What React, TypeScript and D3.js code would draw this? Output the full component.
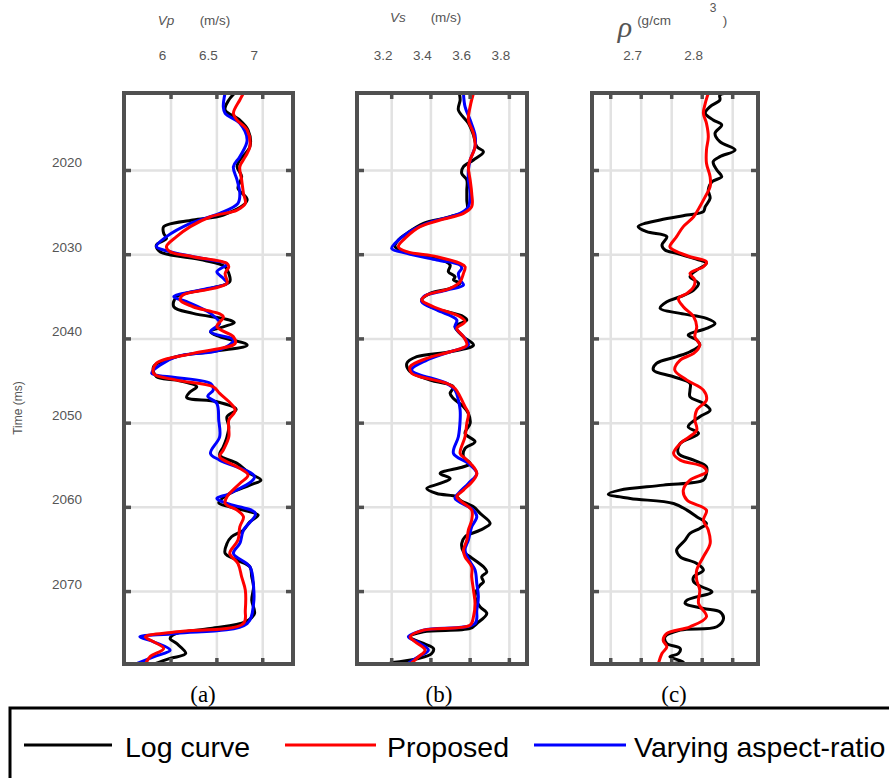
import React from 'react';
import * as d3 from 'd3';

type Pt = [number, number];

const timeTicks = [2020, 2030, 2040, 2050, 2060, 2070];
const vpTicks = [6, 6.5, 7];
const vpTickLabels = ['6', '6.5', '7'];
const vsTicks = [3.2, 3.4, 3.6, 3.8];
const vsTickLabels = ['3.2', '3.4', '3.6', '3.8'];
const rhoTicks = [2.65, 2.7, 2.75, 2.8, 2.85];
const rhoTickLabels = ['', '2.7', '', '2.8', ''];
const panelLabels = ['(a)', '(b)', '(c)'];
const legendLabels = ['Log curve', 'Proposed', 'Varying aspect-ratio'];

// [time (ms), value]
const vpLog: Pt[] = [[2010.76,6.70],[2011.63,6.63],[2012.82,6.59],[2014.01,6.75],[2015.19,6.84],[2017.17,6.86],[2018.76,6.75],[2019.55,6.72],[2020.74,6.77],[2022.12,6.73],[2023.51,6.83],[2025.29,6.57],[2025.88,6.24],[2026.67,5.92],[2027.47,5.92],[2028.06,5.95],[2028.85,5.84],[2029.64,5.88],[2030.63,6.35],[2031.43,6.59],[2032.22,6.63],[2033.21,6.64],[2034.00,6.43],[2034.99,6.06],[2036.18,6.03],[2036.97,6.24],[2037.76,6.64],[2038.08,6.69],[2039.15,6.43],[2039.74,6.53],[2040.73,6.83],[2041.52,6.43],[2042.11,6.06],[2043.30,5.81],[2044.49,5.84],[2044.89,6.06],[2045.68,6.28],[2046.27,6.21],[2046.95,6.17],[2047.46,6.50],[2048.37,6.71],[2049.24,6.61],[2050.43,6.63],[2051.62,6.61],[2052.81,6.57],[2053.79,6.53],[2054.78,6.72],[2055.97,6.86],[2056.76,6.98],[2057.36,6.86],[2058.35,6.64],[2059.46,6.52],[2059.93,6.64],[2060.53,6.86],[2060.92,6.95],[2061.71,6.86],[2062.70,6.79],[2063.49,6.66],[2064.29,6.61],[2065.47,6.59],[2066.27,6.72],[2067.06,6.86],[2068.25,6.88],[2069.43,6.90],[2071.02,6.88],[2072.60,6.91],[2073.59,6.81],[2074.38,6.43],[2074.97,6.06],[2075.57,5.99],[2076.16,6.06],[2077.35,6.16],[2077.94,5.99],[2078.62,5.81]];
const vpProposed: Pt[] = [[2010.84,6.79],[2011.63,6.75],[2013.21,6.68],[2014.01,6.72],[2015.19,6.83],[2017.17,6.86],[2018.36,6.81],[2019.55,6.75],[2021.13,6.77],[2022.72,6.79],[2023.90,6.81],[2024.70,6.72],[2025.49,6.43],[2026.67,6.21],[2027.86,6.06],[2029.05,5.95],[2029.64,5.99],[2030.24,6.24],[2031.03,6.61],[2031.43,6.63],[2032.22,6.59],[2033.40,6.61],[2034.00,6.46],[2034.79,6.13],[2035.38,6.10],[2036.18,6.24],[2037.36,6.57],[2038.55,6.50],[2039.74,6.68],[2040.53,6.70],[2041.72,6.24],[2042.91,5.84],[2044.10,5.81],[2044.89,6.06],[2045.68,6.46],[2046.47,6.53],[2048.45,6.70],[2049.64,6.63],[2051.62,6.63],[2053.20,6.57],[2053.99,6.53],[2055.18,6.72],[2056.17,6.84],[2057.16,6.75],[2058.74,6.61],[2059.54,6.59],[2060.33,6.72],[2061.12,6.79],[2062.31,6.75],[2063.89,6.73],[2065.47,6.64],[2066.66,6.73],[2068.25,6.77],[2069.83,6.81],[2072.20,6.81],[2073.79,6.79],[2074.78,6.06],[2075.37,5.72],[2075.96,5.81],[2076.76,5.92],[2077.75,5.77],[2078.62,5.72]];
const vpVarying: Pt[] = [[2010.76,6.59],[2012.42,6.57],[2013.21,6.59],[2014.40,6.75],[2016.38,6.83],[2018.36,6.75],[2019.55,6.68],[2021.13,6.72],[2022.72,6.75],[2023.90,6.73],[2025.09,6.53],[2026.28,6.21],[2027.86,5.95],[2029.05,5.84],[2029.64,5.99],[2030.63,6.43],[2031.11,6.61],[2032.02,6.50],[2032.81,6.57],[2033.40,6.61],[2034.20,6.32],[2034.99,6.03],[2035.58,6.17],[2036.97,6.43],[2038.16,6.53],[2039.15,6.43],[2040.13,6.68],[2041.32,6.53],[2042.11,6.06],[2043.70,5.81],[2044.10,5.79],[2045.28,6.43],[2046.08,6.46],[2046.79,6.40],[2047.66,6.50],[2049.64,6.52],[2051.62,6.53],[2053.60,6.43],[2054.39,6.53],[2056.37,6.91],[2058.35,6.64],[2058.94,6.50],[2059.54,6.61],[2060.72,6.92],[2062.70,6.79],[2064.29,6.75],[2065.47,6.68],[2067.06,6.86],[2069.43,6.90],[2071.41,6.90],[2073.79,6.83],[2074.97,6.06],[2075.37,5.66],[2075.96,5.81],[2076.95,5.99],[2077.75,5.81],[2078.62,5.61]];

const vsLog: Pt[] = [[2010.84,3.545],[2011.63,3.549],[2012.82,3.540],[2014.40,3.591],[2015.79,3.617],[2017.17,3.634],[2017.77,3.668],[2018.76,3.617],[2019.55,3.566],[2020.34,3.557],[2021.13,3.583],[2022.32,3.583],[2023.51,3.583],[2024.70,3.583],[2025.49,3.498],[2026.28,3.362],[2027.47,3.277],[2028.26,3.234],[2029.05,3.217],[2029.84,3.294],[2030.44,3.430],[2031.23,3.498],[2032.02,3.489],[2032.61,3.523],[2033.01,3.515],[2033.40,3.549],[2034.00,3.498],[2034.59,3.396],[2035.38,3.353],[2036.18,3.396],[2037.36,3.566],[2037.76,3.583],[2038.55,3.523],[2039.74,3.566],[2040.73,3.617],[2041.52,3.498],[2042.11,3.328],[2042.91,3.277],[2043.90,3.294],[2044.89,3.396],[2045.68,3.515],[2046.47,3.498],[2047.07,3.515],[2048.05,3.566],[2048.85,3.591],[2050.03,3.600],[2051.22,3.574],[2052.21,3.625],[2053.00,3.574],[2053.99,3.566],[2054.78,3.600],[2055.18,3.566],[2055.97,3.447],[2056.57,3.498],[2057.16,3.447],[2057.75,3.379],[2058.35,3.430],[2058.74,3.532],[2059.14,3.549],[2059.93,3.617],[2060.72,3.651],[2061.91,3.702],[2062.70,3.651],[2063.49,3.574],[2064.29,3.557],[2065.28,3.566],[2065.87,3.600],[2067.06,3.668],[2067.65,3.685],[2068.25,3.659],[2068.84,3.668],[2069.23,3.651],[2069.83,3.634],[2070.62,3.625],[2071.81,3.651],[2072.60,3.685],[2073.79,3.634],[2074.38,3.600],[2074.78,3.362],[2075.37,3.294],[2076.16,3.362],[2076.76,3.413],[2077.35,3.404],[2077.94,3.336],[2078.46,3.191]];
const vsProposed: Pt[] = [[2010.84,3.617],[2012.42,3.600],[2014.01,3.591],[2015.59,3.617],[2017.17,3.625],[2018.76,3.600],[2019.55,3.591],[2021.13,3.600],[2022.72,3.608],[2024.30,3.608],[2025.09,3.566],[2025.88,3.447],[2026.67,3.345],[2027.86,3.277],[2029.05,3.234],[2029.64,3.277],[2030.24,3.430],[2031.03,3.549],[2031.43,3.574],[2032.22,3.566],[2033.21,3.549],[2034.00,3.498],[2034.79,3.379],[2035.38,3.353],[2036.18,3.413],[2037.36,3.549],[2037.96,3.574],[2038.75,3.532],[2039.74,3.566],[2040.73,3.583],[2041.52,3.498],[2042.31,3.379],[2043.30,3.294],[2044.09,3.302],[2044.49,3.345],[2045.28,3.481],[2045.88,3.523],[2046.87,3.549],[2048.05,3.574],[2048.85,3.591],[2050.03,3.583],[2051.62,3.574],[2053.60,3.549],[2054.19,3.574],[2055.18,3.617],[2055.97,3.634],[2056.76,3.617],[2057.95,3.566],[2058.74,3.532],[2059.34,3.557],[2060.33,3.608],[2061.51,3.608],[2062.70,3.591],[2063.89,3.583],[2065.08,3.566],[2065.87,3.574],[2067.06,3.608],[2068.25,3.608],[2069.83,3.617],[2071.41,3.625],[2072.99,3.617],[2073.98,3.600],[2074.58,3.362],[2075.37,3.294],[2075.96,3.319],[2076.95,3.370],[2077.75,3.336],[2078.62,3.294]];
const vsVarying: Pt[] = [[2010.84,3.566],[2012.42,3.574],[2014.01,3.600],[2015.79,3.625],[2017.17,3.625],[2018.76,3.600],[2019.94,3.591],[2021.13,3.591],[2022.72,3.600],[2024.30,3.591],[2025.09,3.549],[2026.28,3.379],[2027.47,3.277],[2028.65,3.217],[2029.25,3.200],[2029.84,3.277],[2030.63,3.430],[2031.23,3.549],[2031.62,3.557],[2032.22,3.540],[2033.01,3.549],[2033.60,3.566],[2034.20,3.481],[2034.99,3.362],[2035.58,3.353],[2036.57,3.430],[2037.76,3.532],[2038.55,3.523],[2039.74,3.566],[2040.73,3.591],[2041.52,3.498],[2042.51,3.379],[2043.70,3.302],[2045.28,3.481],[2046.08,3.523],[2047.26,3.540],[2048.45,3.549],[2049.64,3.549],[2051.62,3.540],[2053.60,3.515],[2054.78,3.591],[2055.97,3.634],[2057.16,3.591],[2058.35,3.540],[2058.94,3.523],[2060.33,3.617],[2061.12,3.634],[2062.31,3.608],[2063.89,3.591],[2065.08,3.574],[2066.46,3.600],[2067.45,3.625],[2069.04,3.634],[2070.62,3.642],[2072.20,3.634],[2073.79,3.625],[2074.58,3.362],[2075.37,3.285],[2076.16,3.345],[2076.95,3.387],[2077.75,3.336],[2078.62,3.277]];

const rhoLog: Pt[] = [[2010.76,2.862],[2011.04,2.829],[2011.63,2.829],[2012.42,2.813],[2013.21,2.805],[2014.01,2.818],[2014.60,2.832],[2015.59,2.821],[2016.58,2.829],[2017.57,2.854],[2018.36,2.829],[2018.96,2.818],[2019.94,2.824],[2020.74,2.832],[2021.33,2.816],[2022.32,2.810],[2023.31,2.813],[2024.30,2.805],[2024.89,2.802],[2025.29,2.775],[2025.88,2.731],[2026.67,2.695],[2027.27,2.709],[2027.86,2.742],[2028.85,2.734],[2029.45,2.739],[2029.84,2.758],[2030.44,2.786],[2031.03,2.807],[2031.82,2.791],[2032.61,2.780],[2033.40,2.794],[2034.20,2.786],[2034.99,2.764],[2035.58,2.742],[2036.37,2.731],[2036.97,2.764],[2037.56,2.807],[2038.16,2.821],[2038.75,2.807],[2039.54,2.777],[2040.13,2.791],[2040.73,2.796],[2041.52,2.780],[2042.11,2.758],[2042.91,2.725],[2043.70,2.720],[2044.49,2.753],[2045.28,2.780],[2046.08,2.780],[2046.87,2.780],[2047.66,2.802],[2048.45,2.813],[2049.24,2.796],[2050.43,2.777],[2051.22,2.794],[2052.41,2.764],[2053.60,2.761],[2054.39,2.786],[2055.18,2.807],[2055.97,2.807],[2056.76,2.802],[2057.36,2.736],[2057.95,2.665],[2058.43,2.646],[2058.94,2.682],[2059.54,2.753],[2060.33,2.775],[2061.12,2.791],[2061.91,2.807],[2062.50,2.796],[2063.10,2.780],[2063.89,2.772],[2065.08,2.758],[2065.87,2.764],[2066.66,2.791],[2067.45,2.802],[2068.25,2.786],[2068.84,2.786],[2069.43,2.799],[2070.03,2.816],[2071.02,2.775],[2071.41,2.772],[2072.01,2.802],[2072.40,2.829],[2073.19,2.835],[2074.18,2.824],[2074.58,2.764],[2075.37,2.739],[2076.16,2.742],[2076.76,2.764],[2077.35,2.761],[2077.75,2.747],[2078.34,2.769],[2078.62,2.736]];
const rhoProposed: Pt[] = [[2010.84,2.810],[2012.03,2.805],[2013.21,2.802],[2014.40,2.807],[2015.99,2.810],[2017.57,2.807],[2019.15,2.807],[2020.74,2.813],[2021.92,2.813],[2023.11,2.805],[2024.30,2.796],[2025.49,2.786],[2026.67,2.769],[2027.86,2.758],[2029.05,2.747],[2029.45,2.753],[2030.24,2.780],[2030.83,2.807],[2031.43,2.802],[2032.22,2.780],[2033.01,2.788],[2033.80,2.786],[2034.59,2.775],[2035.19,2.761],[2036.18,2.769],[2037.36,2.786],[2038.55,2.791],[2039.74,2.788],[2040.73,2.796],[2041.72,2.786],[2042.51,2.764],[2043.70,2.755],[2044.89,2.775],[2046.08,2.802],[2047.26,2.807],[2048.45,2.791],[2049.64,2.788],[2050.83,2.791],[2052.41,2.764],[2053.60,2.753],[2054.39,2.764],[2055.18,2.802],[2055.77,2.807],[2056.76,2.780],[2057.95,2.769],[2059.14,2.775],[2060.33,2.807],[2061.51,2.802],[2062.70,2.810],[2064.29,2.813],[2065.87,2.802],[2067.45,2.791],[2068.64,2.791],[2069.83,2.796],[2071.41,2.794],[2072.99,2.807],[2074.18,2.780],[2074.97,2.742],[2075.77,2.736],[2076.56,2.742],[2077.35,2.734],[2078.62,2.728]];

const timeDomain: [number, number] = [2010.8, 2078.6];

const COLORS = { log: '#000000', proposed: '#ff0000', varying: '#0000ff' };
const FRAME = '#505050';
const GRID = '#e2e2e2';
const TEXT = '#555555';

interface PanelDef {
  key: string;
  left: number;
  right: number;
  domain: [number, number];
  ticks: number[];
  tickLabels: string[];
  series: { data: Pt[]; color: string }[];
}

const panels: PanelDef[] = [
  { key: 'a', left: 124, right: 293, domain: [5.487, 7.33], ticks: vpTicks, tickLabels: vpTickLabels,
    series: [{ data: vpLog, color: COLORS.log }, { data: vpVarying, color: COLORS.varying }, { data: vpProposed, color: COLORS.proposed }] },
  { key: 'b', left: 357, right: 527, domain: [3.023, 3.89], ticks: vsTicks, tickLabels: vsTickLabels,
    series: [{ data: vsLog, color: COLORS.log }, { data: vsVarying, color: COLORS.varying }, { data: vsProposed, color: COLORS.proposed }] },
  { key: 'c', left: 592, right: 758, domain: [2.6193, 2.8915], ticks: rhoTicks, tickLabels: rhoTickLabels,
    series: [{ data: rhoLog, color: COLORS.log }, { data: rhoProposed, color: COLORS.proposed }] },
];

const TOP = 93;
const BOTTOM = 664;
const y = d3.scaleLinear().domain(timeDomain).range([TOP, BOTTOM]);

function Panel({ p }: { p: PanelDef }) {
  const x = d3.scaleLinear().domain(p.domain).range([p.left, p.right]);
  const line = d3.line<Pt>().x(d => x(d[1])).y(d => y(d[0])).curve(d3.curveCatmullRom.alpha(0.5));
  const clipId = `clip-${p.key}`;
  return (
    <g>
      <defs>
        <clipPath id={clipId}>
          <rect x={p.left} y={TOP} width={p.right - p.left} height={BOTTOM - TOP} />
        </clipPath>
      </defs>
      <rect x={p.left} y={TOP} width={p.right - p.left} height={BOTTOM - TOP} fill="#fff" />
      {p.ticks.map(t => (
        <line key={`gx${t}`} x1={x(t)} x2={x(t)} y1={TOP} y2={BOTTOM} stroke={GRID} strokeWidth={2.5} />
      ))}
      {timeTicks.map(t => (
        <line key={`gy${t}`} x1={p.left} x2={p.right} y1={y(t)} y2={y(t)} stroke={GRID} strokeWidth={2.5} />
      ))}
      <g clipPath={`url(#${clipId})`}>
        {p.series.map((s, i) => (
          <path key={i} d={line(s.data) || ''} fill="none" stroke={s.color} strokeWidth={3} strokeLinejoin="round" />
        ))}
      </g>
      {p.ticks.map(t => (
        <g key={`tx${t}`}>
          <line x1={x(t)} x2={x(t)} y1={TOP} y2={TOP + 6} stroke={FRAME} strokeWidth={3.5} />
          <line x1={x(t)} x2={x(t)} y1={BOTTOM} y2={BOTTOM - 6} stroke={FRAME} strokeWidth={3.5} />
        </g>
      ))}
      {timeTicks.map(t => (
        <g key={`ty${t}`}>
          <line x1={p.left} x2={p.left + 7} y1={y(t)} y2={y(t)} stroke={FRAME} strokeWidth={3.5} />
          <line x1={p.right} x2={p.right - 7} y1={y(t)} y2={y(t)} stroke={FRAME} strokeWidth={3.5} />
        </g>
      ))}
      <rect x={p.left} y={TOP} width={p.right - p.left} height={BOTTOM - TOP} fill="none" stroke={FRAME} strokeWidth={4} />
      {p.ticks.map((t, i) => (
        <text key={`lx${t}`} x={x(t) - 8.5} y={60} textAnchor="middle" fontSize={13.5} fill={TEXT}
          fontFamily="'Liberation Sans', Arial, sans-serif">{p.tickLabels[i]}</text>
      ))}
    </g>
  );
}

export default function App() {
  const sans = "'Liberation Sans', Arial, sans-serif";
  const serif = "'Liberation Serif', 'Times New Roman', serif";
  const legendItems = [
    { label: legendLabels[0], color: COLORS.log, x1: 24, x2: 112, tx: 125 },
    { label: legendLabels[1], color: COLORS.proposed, x1: 285, x2: 376, tx: 387 },
    { label: legendLabels[2], color: COLORS.varying, x1: 534, x2: 626, tx: 634 },
  ];
  return (
    <svg width={889} height={778} style={{ position: 'absolute', left: 0, top: 0, background: '#fff' }}
      xmlns="http://www.w3.org/2000/svg">
      <rect x={0} y={0} width={889} height={778} fill="#fff" />
      {/* headers */}
      <text x={166} y={25} textAnchor="middle" fontSize={13.5} fontStyle="italic" fill={TEXT} fontFamily={sans}>Vp</text>
      <text x={215} y={25} textAnchor="middle" fontSize={13.5} fill={TEXT} fontFamily={sans}>(m/s)</text>
      <text x={398} y={22} textAnchor="middle" fontSize={13.5} fontStyle="italic" fill={TEXT} fontFamily={sans}>Vs</text>
      <text x={446} y={22} textAnchor="middle" fontSize={13.5} fill={TEXT} fontFamily={sans}>(m/s)</text>
      <text x={625} y={37} textAnchor="middle" fontSize={30} fontStyle="italic" fill={TEXT} fontFamily={serif}>ρ</text>
      <text x={654} y={25} textAnchor="middle" fontSize={13.5} fill={TEXT} fontFamily={sans}>(g/cm</text>
      <text x={713} y={12} textAnchor="middle" fontSize={12} fill={TEXT} fontFamily={sans}>3</text>
      <text x={725} y={25} textAnchor="middle" fontSize={13.5} fill={TEXT} fontFamily={sans}>)</text>

      {/* time axis */}
      {timeTicks.map(t => (
        <text key={t} x={82} y={y(t) - 3} textAnchor="end" fontSize={13.5} fill={TEXT} fontFamily={sans}>{t}</text>
      ))}
      <text transform={`translate(22,408) rotate(-90)`} textAnchor="middle" fontSize={12} fill={TEXT} fontFamily={sans}>Time (ms)</text>

      {panels.map(p => <Panel key={p.key} p={p} />)}

      {/* subplot labels */}
      {panelLabels.map((l, i) => (
        <text key={l} x={[203, 439, 674][i]} y={702} textAnchor="middle" fontSize={23} fill="#000" fontFamily={serif}>{l}</text>
      ))}

      {/* legend */}
      <rect x={10} y={708} width={900} height={100} fill="#fff" stroke="#000" strokeWidth={3} />
      {legendItems.map(it => (
        <g key={it.label}>
          <line x1={it.x1} x2={it.x2} y1={745} y2={745} stroke={it.color} strokeWidth={3} />
          <text x={it.tx} y={757} fontSize={28.5} fill="#000" fontFamily={sans}>{it.label}</text>
        </g>
      ))}
    </svg>
  );
}
